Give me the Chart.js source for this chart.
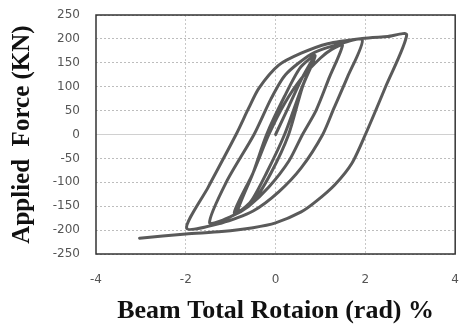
<!DOCTYPE html>
<html>
<head>
<meta charset="utf-8">
<script src="https://cdn.jsdelivr.net/npm/chart.js@4"></script>
<style>
  html, body { margin: 0; padding: 0; background: #fff; }
  #wrap { width: 459px; height: 324px; }
</style>
</head>
<body>
<div id="wrap"><canvas id="chart"></canvas></div>
<script>
// hysteresis path (rotation in rad %, force in kN)
const rotation = [
    0, 0.3, 0.6, 0.85,
    0.55, 0.2, -0.2, -0.55, -0.85,
    -0.5, -0.2, 0.2, 0.55, 0.88,
    0.6, 0.29, -0.1, -0.5, -0.92,
    -0.5, -0.15, 0.2, 0.57, 1.0, 1.25, 1.49,
    1.2, 0.9, 0.6, 0.3, -0.15, -0.6, -1.0, -1.47,
    -1.1, -0.48, -0.1, 0.22, 0.79, 1.3, 1.93,
    1.6, 1.3, 1.05, 0.57, 0.07, -0.5, -1.2, -1.98,
    -1.5, -0.88, -0.6, -0.37, 0.07, 0.57, 1.16, 1.93, 2.5, 2.92,
    2.45, 2.0, 1.7, 1.32, 0.9, 0.57, 0, -0.5, -1.2, -2.0, -3.03
];
const force = [
    0, 60, 120, 160,
    90, 0, -80, -140, -162,
    -80, 0, 80, 140, 165,
    100, 0, -80, -140, -164,
    -80, 0, 65, 117, 160, 178, 187,
    120, 50, 0, -55, -110, -150, -172, -185,
    -100, 0, 75, 125, 168, 186, 198,
    120, 55, 0, -70, -120, -160, -185, -196,
    -110, 0, 55, 97, 145, 170, 190, 201, 205, 209,
    100, 0, -60, -105, -140, -162, -185, -195, -203, -208, -217
];
const xTicks = [-4, -2, 0, 2, 4];
const yTicks = [-250, -200, -150, -100, -50, 0, 50, 100, 150, 200, 250];

const points = rotation.map((r, i) => ({ x: r, y: force[i] }));

// dark frame round the plot area
const frame = {
    id: 'frame',
    afterDraw(chart) {
        const { ctx, chartArea: a } = chart;
        ctx.save();
        ctx.strokeStyle = '#333';
        ctx.lineWidth = 1.5;
        ctx.strokeRect(a.left, a.top, a.right - a.left, a.bottom - a.top);
        ctx.restore();
    }
};

const tickFont = { family: 'DejaVu Sans', size: 12 };

new Chart(document.getElementById('chart'), {
    type: 'scatter',
    data: {
        datasets: [{
            data: points,
            showLine: true,
            borderColor: '#5a5a5a',
            borderWidth: 3,
            pointRadius: 0,
            tension: 0.25,
            borderCapStyle: 'round',
            borderJoinStyle: 'round'
        }]
    },
    options: {
        responsive: true,
        maintainAspectRatio: false,
        animation: false,
        layout: { padding: { top: 15, right: 2, left: 0, bottom: 0 } },
        plugins: { legend: { display: false }, tooltip: { enabled: false } },
        scales: {
            x: {
                type: 'linear',
                min: -4,
                max: 4,
                afterBuildTicks: s => { s.ticks = xTicks.map(v => ({ value: v })); },
                afterFit: s => { s.height = 70; },
                ticks: { color: '#555', font: tickFont, padding: 0 },
                grid: {
                    drawTicks: true,
                    tickLength: 19,
                    tickColor: 'rgba(0,0,0,0)',
                    color: ctx => (ctx.tick.value === -4 || ctx.tick.value === 4) ? 'rgba(0,0,0,0)' : '#c8c8c8'
                },
                border: { display: false, dash: [2, 2] },
                title: {
                    display: true,
                    text: 'Beam Total Rotaion (rad) %',
                    color: '#111',
                    font: { family: 'Liberation Serif', size: 26, weight: 'bold', lineHeight: 1 },
                    padding: { top: 0, bottom: 0 }
                }
            },
            y: {
                type: 'linear',
                min: -250,
                max: 250,
                afterBuildTicks: s => { s.ticks = yTicks.map(v => ({ value: v })); },
                afterFit: s => { s.width = 96; },
                ticks: { color: '#555', font: tickFont, padding: 1 },
                grid: {
                    drawTicks: true,
                    tickLength: 15,
                    tickColor: 'rgba(0,0,0,0)',
                    color: ctx => (ctx.tick.value === 0) ? '#d0d0d0' : '#bdbdbd'
                },
                border: { display: false, dash: ctx => (ctx.tick && ctx.tick.value === 0) ? [] : [2, 2] },
                title: {
                    display: true,
                    text: 'Applied  Force (KN)',
                    color: '#111',
                    font: { family: 'Liberation Serif', size: 25, weight: 'bold', lineHeight: 1 },
                    padding: { top: 10, bottom: 0 }
                }
            }
        }
    },
    plugins: [frame]
});
</script>
</body>
</html>
